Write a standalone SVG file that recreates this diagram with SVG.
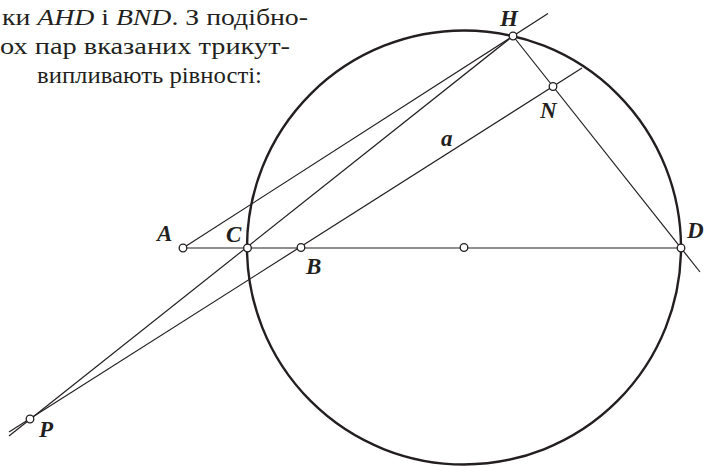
<svg xmlns="http://www.w3.org/2000/svg" width="709" height="466" viewBox="0 0 709 466">
<style>
.txt{font-family:"Liberation Serif","DejaVu Serif",serif;font-size:24px;fill:#231f20}
.it{font-style:italic}
.lbl{font-family:"Liberation Serif","DejaVu Serif",serif;font-size:23px;font-weight:bold;font-style:italic;fill:#231f20}
.ln{stroke:#231f20;stroke-width:1.2;fill:none}
.circ{stroke:#231f20;stroke-width:2.4;fill:none}
.pt{fill:#fff;stroke:#231f20;stroke-width:1.3}
</style>
<rect width="709" height="466" fill="#fff"/>
<g id="text">
<text class="txt" x="2" y="25" textLength="306" lengthAdjust="spacingAndGlyphs">ки <tspan class="it">AHD</tspan> і <tspan class="it">BND</tspan>. З подібно-</text>
<text class="txt" x="0" y="54" textLength="290" lengthAdjust="spacingAndGlyphs">ох пар вказаних трикут-</text>
<text class="txt" x="37" y="83" textLength="225" lengthAdjust="spacingAndGlyphs">випливають рівності:</text>
</g>
<g id="circle">
<circle class="circ" cx="464" cy="247.5" r="217"/>
</g>
<g id="connectors">
<line class="ln" x1="183" y1="248" x2="681" y2="248"/>
<line class="ln" x1="183" y1="248" x2="548" y2="13.5"/>
<line class="ln" x1="9" y1="436" x2="513" y2="36"/>
<line class="ln" x1="9" y1="432" x2="582" y2="68"/>
<line class="ln" x1="513" y1="36" x2="700" y2="272"/>
</g>
<g id="node-A"><circle class="pt" cx="183" cy="248" r="3.8"/><text class="lbl" x="157" y="241">A</text></g>
<g id="node-C"><circle class="pt" cx="247.5" cy="248" r="3.8"/><text class="lbl" x="226" y="241.5">C</text></g>
<g id="node-B"><circle class="pt" cx="301" cy="247.5" r="3.8"/><text class="lbl" x="306" y="274">B</text></g>
<g id="node-O"><circle class="pt" cx="464" cy="247.5" r="3.8"/></g>
<g id="node-D"><circle class="pt" cx="681" cy="248" r="3.8"/><text class="lbl" x="687" y="238">D</text></g>
<g id="node-H"><circle class="pt" cx="513" cy="36" r="3.8"/><text class="lbl" x="500" y="26">H</text></g>
<g id="node-N"><circle class="pt" cx="553" cy="86.5" r="3.8"/><text class="lbl" x="540" y="118">N</text></g>
<g id="node-P"><circle class="pt" cx="30" cy="419" r="3.8"/><text class="lbl" x="39" y="437">P</text></g>
<g id="label-a"><text class="lbl" x="441" y="146">a</text></g>
</svg>
